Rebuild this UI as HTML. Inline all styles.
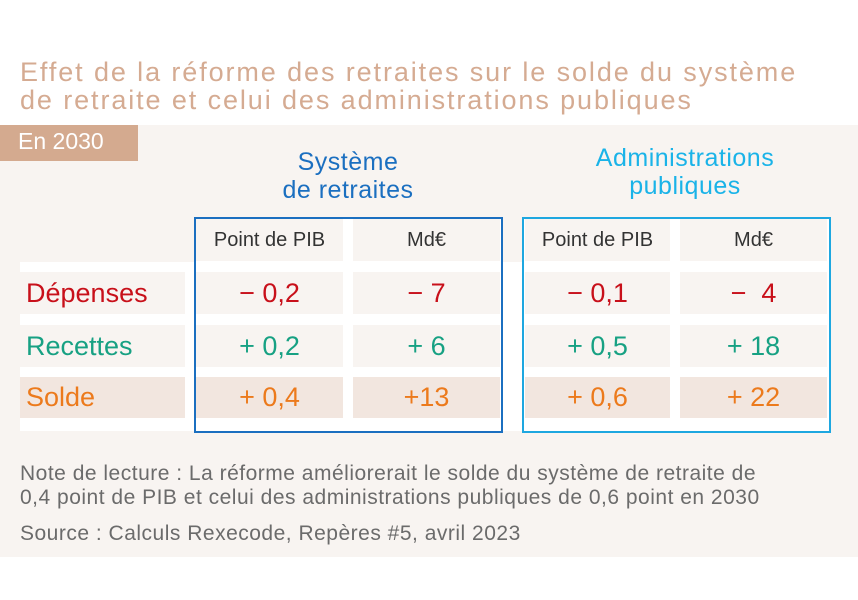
<!DOCTYPE html>
<html><head><meta charset="utf-8">
<style>
body{margin:0;width:858px;height:600px;background:#fff;position:relative;overflow:hidden;font-family:"Liberation Sans",sans-serif}
div{position:absolute;box-sizing:border-box}
.t{color:#d5ab92;font-size:27px;letter-spacing:1.9px;left:20px;white-space:nowrap;line-height:28px}
.cell{background:#f8f4f1;display:flex;align-items:center;justify-content:center;font-family:"Liberation Sans Narrow","Liberation Sans",sans-serif;font-size:27px}
.hd{font-size:20px;color:#333;font-family:"Liberation Sans",sans-serif}
.lab{justify-content:flex-start;padding-left:6px}
.red{color:#c8101a}.grn{color:#17a183}.org{color:#ec7a1c}
.solde{background:#f2e6df}
.note{left:20px;color:#6b6b6b;font-size:21px;letter-spacing:0.5px;font-family:"Liberation Sans Narrow","Liberation Sans",sans-serif;white-space:nowrap}
.sec{text-align:center;font-size:25px;line-height:28px;letter-spacing:0.5px}
</style></head><body>
<div class="t" style="top:58px">Effet de la réforme des retraites sur le solde du système</div>
<div class="t" style="top:86px">de retraite et celui des administrations publiques</div>
<div style="left:0;top:125px;width:858px;height:432px;background:#f8f4f1"></div>
<div style="left:0;top:125px;width:138px;height:36px;background:#d4aa8f;color:#fff;font-size:23px;padding:3px 0 0 18px">En 2030</div>
<div class="sec" style="left:243px;top:148px;width:210px;color:#1b6fc0">Système<br>de retraites</div>
<div class="sec" style="left:555px;top:144px;width:260px;color:#1ab3e8">Administrations<br>publiques</div>
<div style="left:20px;top:262px;width:810px;height:169px;background:#fff"></div>
<div style="left:194px;top:217px;width:309px;height:216px;background:#fff;border:2px solid #1b6fc0"></div>
<div style="left:522px;top:217px;width:309px;height:216px;background:#fff;border:2px solid #1ea7e0"></div>

<div class="cell hd" style="left:196px;top:219px;width:147px;height:42px">Point de PIB</div>
<div class="cell hd" style="left:353px;top:219px;width:147px;height:42px">Md€</div>
<div class="cell hd" style="left:525px;top:219px;width:145px;height:42px">Point de PIB</div>
<div class="cell hd" style="left:680px;top:219px;width:147px;height:42px">Md€</div>

<div class="cell lab red" style="left:20px;top:272px;width:165px;height:42px">Dépenses</div>
<div class="cell red" style="left:196px;top:272px;width:147px;height:42px">− 0,2</div>
<div class="cell red" style="left:353px;top:272px;width:147px;height:42px">− 7</div>
<div class="cell red" style="left:525px;top:272px;width:145px;height:42px">− 0,1</div>
<div class="cell red" style="left:680px;top:272px;width:147px;height:42px">−&nbsp; 4</div>

<div class="cell lab grn" style="left:20px;top:325px;width:165px;height:42px">Recettes</div>
<div class="cell grn" style="left:196px;top:325px;width:147px;height:42px">+ 0,2</div>
<div class="cell grn" style="left:353px;top:325px;width:147px;height:42px">+ 6</div>
<div class="cell grn" style="left:525px;top:325px;width:145px;height:42px">+ 0,5</div>
<div class="cell grn" style="left:680px;top:325px;width:147px;height:42px">+ 18</div>

<div class="cell lab org solde" style="left:20px;top:377px;width:165px;height:41px">Solde</div>
<div class="cell org solde" style="left:196px;top:377px;width:147px;height:41px">+ 0,4</div>
<div class="cell org solde" style="left:353px;top:377px;width:147px;height:41px">+13</div>
<div class="cell org solde" style="left:525px;top:377px;width:145px;height:41px">+ 0,6</div>
<div class="cell org solde" style="left:680px;top:377px;width:147px;height:41px">+ 22</div>

<div class="note" style="top:462px">Note de lecture : La réforme améliorerait le solde du système de retraite de</div>
<div class="note" style="top:486px">0,4 point de PIB et celui des administrations publiques de 0,6 point en 2030</div>
<div class="note" style="top:522px">Source : Calculs Rexecode, Repères #5, avril 2023</div>
</body></html>
